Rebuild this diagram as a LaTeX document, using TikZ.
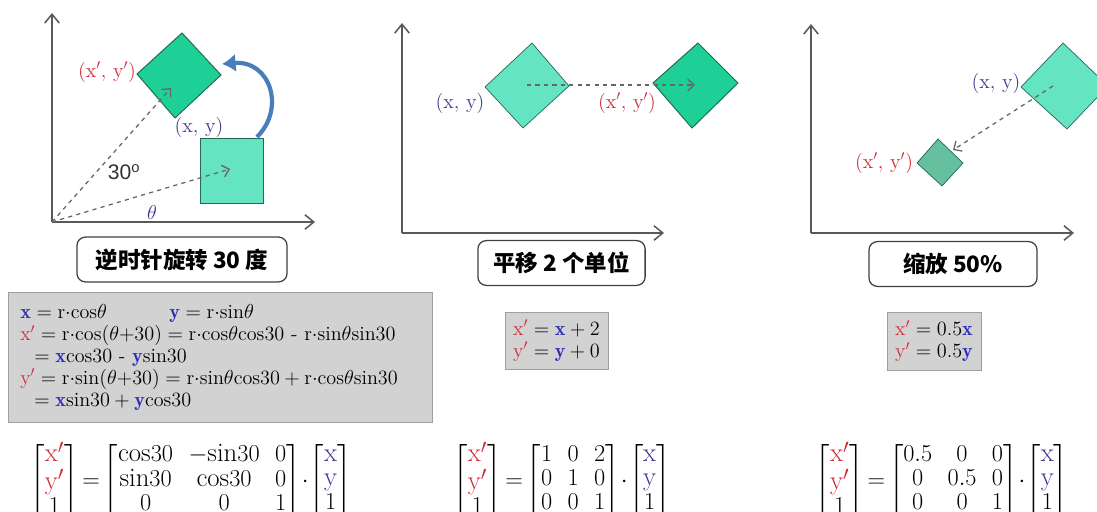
\documentclass[tikz,border=0pt]{standalone}
\usepackage{amsmath}
\usepackage{fontspec}
\usepackage{xcolor}
\usetikzlibrary{arrows.meta}
\newfontfamily\cjk{Noto Sans CJK SC}
\newfontfamily\lab{Liberation Sans}

\definecolor{ptred}{RGB}{205,45,55}
\definecolor{ptblue}{RGB}{45,45,185}
\definecolor{ptpurple}{RGB}{60,55,145}
\definecolor{lightsq}{RGB}{100,228,192}
\definecolor{darksq}{RGB}{30,208,150}
\definecolor{smallsq}{RGB}{100,192,158}
\definecolor{sqedge}{RGB}{35,105,85}
\definecolor{arcblue}{RGB}{74,126,187}
\definecolor{boxgray}{RGB}{210,210,210}

\newcommand{\xp}{\textcolor{ptred}{\mathrm{x}'}}
\newcommand{\yp}{\textcolor{ptred}{\mathrm{y}'}}
\newcommand{\xb}{\textcolor{ptblue}{\mathbf{x}}}
\newcommand{\yb}{\textcolor{ptblue}{\mathbf{y}}}
\newcommand{\xm}{\textcolor{ptpurple}{\mathrm{x}}}
\newcommand{\ym}{\textcolor{ptpurple}{\mathrm{y}}}
\newcommand{\dotc}{{\cdot}}
\newcommand{\matfont}{\fontsize{19}{17}\selectfont
  \thickmuskip=3mu\relax\medmuskip=1mu\relax\setlength{\arraycolsep}{5.5pt}}

\begin{document}
\begin{tikzpicture}[x=0.025cm, y=-0.025cm,
  axis/.style={draw=black!65, line width=1.1pt, -{Straight Barb[length=2.2mm,width=3.6mm]}},
  move/.style={draw=black!60, dashed, line width=0.9pt, -{Straight Barb[length=1.6mm,width=3mm]}},
  sq/.style={draw=sqedge, line width=0.7pt},
  ptlabel/.style={font=\fontsize{14.5}{16}\selectfont, inner sep=1pt},
  titlebox/.style={draw=black!75, line width=0.9pt, rounded corners=6pt, fill=white,
    font=\cjk\bfseries\fontsize{16}{18}\selectfont, minimum height=1.12cm},
  formbox/.style={draw=gray!75, fill=boxgray, font=\fontsize{14.3}{15.6}\selectfont},
  mat/.style={font=\matfont, inner sep=0pt}]
\clip (0,0) rectangle (1097,512);

% panel 1: rotation
\coordinate (O1) at (52,222);
\coordinate (X1) at (315,222);
\coordinate (Y1) at (52,13);
\draw[axis] (O1) -- (X1);
\draw[axis] (O1) -- (Y1);
\fill[lightsq, draw=sqedge, line width=0.5pt] (200,138) rectangle (263,203);
\draw[sq, fill=darksq] (182,33) -- (221,75) -- (175,118) -- (137,74) -- cycle;
\coordinate (c1) at (230,169);
\coordinate (c1r) at (171,88);
\draw[move] (O1) -- (c1);
\draw[move] (O1) -- (c1r);
\draw[arcblue, line width=3pt, -{Latex[length=3.4mm,width=4.6mm]}]
  (257,137) .. controls (286,108) and (270,60) .. (222,64);
\node[ptlabel, ptred] (p1r) at (107,72) {$(\mathrm{x}',\,\mathrm{y}')$};
\node[ptlabel, ptpurple] (p1) at (199,127) {$(\mathrm{x},\,\mathrm{y})$};
\node[font=\lab\fontsize{15}{17}\selectfont, text=black!80] (ang) at (124,172) {30\textsuperscript{o}};
\node[ptlabel, ptpurple] (th) at (152,212) {$\theta$};
\node[titlebox, minimum width=5.25cm] (t1) at (182,259.5) {逆时针旋转 30 度};

% panel 2: translation
\coordinate (O2) at (402,233);
\coordinate (X2) at (664,233);
\coordinate (Y2) at (402,23);
\draw[axis] (O2) -- (X2);
\draw[axis] (O2) -- (Y2);
\draw[sq, fill=lightsq, line width=0.5pt] (532,43) -- (569,86) -- (523,128) -- (485,87) -- cycle;
\draw[sq, fill=darksq] (698,43) -- (738,83) -- (692,128) -- (653,83) -- cycle;
\coordinate (c2) at (527,85);
\coordinate (c2r) at (695,85);
\draw[move] (c2) -- (c2r);
\node[ptlabel, ptpurple] (p2) at (460,103) {$(\mathrm{x},\,\mathrm{y})$};
\node[ptlabel, ptred] (p2r) at (627,103) {$(\mathrm{x}',\,\mathrm{y}')$};
\node[titlebox, minimum width=4.18cm] (t2) at (561.5,263) {平移 2 个单位};

% panel 3: scaling
\coordinate (O3) at (811,233);
\coordinate (X3) at (1074,233);
\coordinate (Y3) at (811,24);
\draw[axis] (O3) -- (X3);
\draw[axis] (O3) -- (Y3);
\draw[sq, fill=lightsq, line width=0.5pt] (1063,43) -- (1108,86) -- (1067,129) -- (1021,87) -- cycle;
\draw[sq, fill=smallsq, line width=0.5pt] (938,139) -- (963,163) -- (942,186) -- (917,163) -- cycle;
\coordinate (c3) at (1053,86);
\coordinate (c3r) at (953,150);
\draw[move] (c3) -- (c3r);
\node[ptlabel, ptpurple] (p3) at (996,83) {$(\mathrm{x},\,\mathrm{y})$};
\node[ptlabel, ptred] (p3r) at (884,163) {$(\mathrm{x}',\,\mathrm{y}')$};
\node[titlebox, minimum width=4.2cm] (t3) at (953,264) {缩放 50\%};

% formulas
\node[formbox, anchor=north west, text width=10cm, minimum height=3.25cm,
  inner xsep=0.3cm, align=left] (f1) at (8,292) {%
  $\xb = \mathrm{r}\dotc\mathrm{cos}\theta$\hspace{3.1em}$\yb = \mathrm{r}\dotc\mathrm{sin}\theta$\\
  $\xp = \mathrm{r}\dotc\mathrm{cos}(\theta{+}30) = \mathrm{r}\dotc\mathrm{cos}\theta\mathrm{cos}30\ \mbox{-}\ \mathrm{r}\dotc\mathrm{sin}\theta\mathrm{sin}30$\\
  \hspace*{0.7em}$= \xb\mathrm{cos}30\ \mbox{-}\ \yb\mathrm{sin}30$\\
  $\yp = \mathrm{r}\dotc\mathrm{sin}(\theta{+}30) = \mathrm{r}\dotc\mathrm{sin}\theta\mathrm{cos}30 + \mathrm{r}\dotc\mathrm{cos}\theta\mathrm{sin}30$\\
  \hspace*{0.7em}$= \xb\mathrm{sin}30 + \yb\mathrm{cos}30$};
\node[formbox, minimum width=2.58cm, minimum height=1.43cm, align=left] (f2) at (556.5,340.5) {%
  $\xp = \xb + 2$\\ $\yp = \yb + 0$};
\node[formbox, minimum width=2.35cm, minimum height=1.45cm, align=left] (f3) at (934,341) {%
  $\xp = 0.5\xb$\\ $\yp = 0.5\yb$};

% matrices
\node[mat] (m1) at (191,481) {$\begin{bmatrix}\xp\\ \yp\\ 1\end{bmatrix} =
  \begin{bmatrix}\mathrm{cos}30 & -\mathrm{sin}30 & 0\\ \mathrm{sin}30 & \mathrm{cos}30 & 0\\ 0 & 0 & 1\end{bmatrix}
  \cdot \begin{bmatrix}\xm\\ \ym\\ 1\end{bmatrix}$};
\node[mat] (m2) at (562,481) {$\begin{bmatrix}\xp\\ \yp\\ 1\end{bmatrix} =
  \begin{bmatrix}1 & 0 & 2\\ 0 & 1 & 0\\ 0 & 0 & 1\end{bmatrix}
  \cdot \begin{bmatrix}\xm\\ \ym\\ 1\end{bmatrix}$};
\node[mat] (m3) at (942,481) {$\begin{bmatrix}\xp\\ \yp\\ 1\end{bmatrix} =
  \begin{bmatrix}0.5 & 0 & 0\\ 0 & 0.5 & 0\\ 0 & 0 & 1\end{bmatrix}
  \cdot \begin{bmatrix}\xm\\ \ym\\ 1\end{bmatrix}$};
\end{tikzpicture}
\end{document}
